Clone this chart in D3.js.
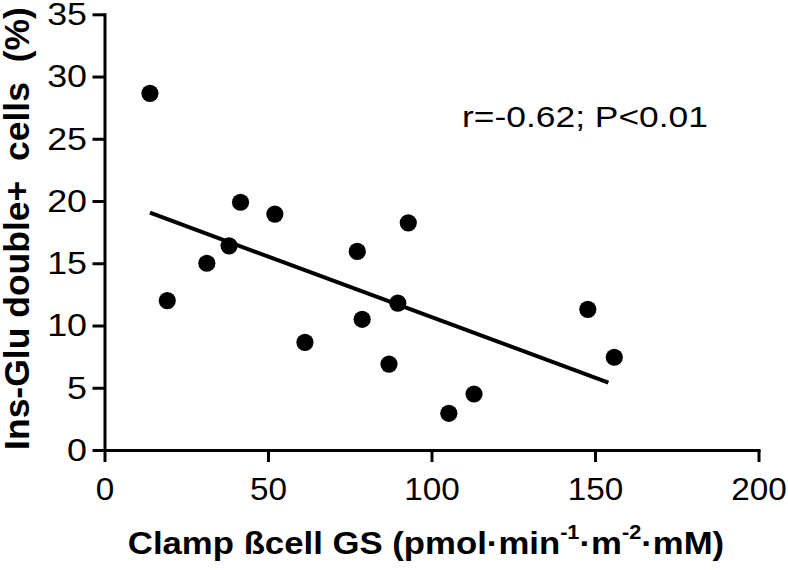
<!DOCTYPE html>
<html><head><meta charset="utf-8">
<script src="https://cdn.jsdelivr.net/npm/d3@7"></script>
<style>
body{margin:0;background:#fff}
svg text{font-family:"Liberation Sans",Arial,Helvetica,sans-serif;fill:#000}
</style>
</head><body>
<svg id="chart" width="788" height="570"></svg>
<script>
// ---- data ----
const xValues = [13.9, 19.2, 31.3, 38.1, 41.6, 52.1, 61.3, 77.3, 78.8, 87.0, 89.7, 92.9, 105.3, 113.0, 147.8, 155.9];
const yValues = [28.65, 12.0, 15.0, 16.4, 19.9, 18.95, 8.65, 15.95, 10.5, 6.9, 11.8, 18.25, 2.95, 4.5, 11.3, 7.45];
const fitX = [13.9, 154.1];
const fitY = [19.06, 5.41];
const xTicks = [0, 50, 100, 150, 200];
const yTicks = [0, 5, 10, 15, 20, 25, 30, 35];
const annotationText = "r=-0.62; P<0.01";
const yLabelText = "Ins-Glu double+  cells  (%)";
const xLabelParts = [
  {t: "Clamp ßcell GS (pmol·min", sup: false},
  {t: "-1", sup: true},
  {t: "·m", sup: false},
  {t: "-2", sup: true},
  {t: "·mM)", sup: false}
];

// ---- layout ----
const svg = d3.select("#chart");
const mLeft = 104.5, mRight = 758.5, mTop = 14.3, mBottom = 450;
const xStretch = 1.04, yStretch = 1.12;

const x = d3.scaleLinear().domain([0, 200]).range([mLeft, mRight]);
const y = d3.scaleLinear().domain([0, 35]).range([mBottom, mTop]);

// axes
const gx = svg.append("g").attr("transform", `translate(0,${mBottom})`)
  .call(d3.axisBottom(x).tickValues(xTicks).tickSize(12).tickSizeOuter(0).tickPadding(15));
const gy = svg.append("g").attr("transform", `translate(${mLeft},0)`)
  .call(d3.axisLeft(y).tickValues(yTicks).tickSize(12).tickSizeOuter(0).tickPadding(3.6));

[[gx, xStretch], [gy, yStretch]].forEach(([g, s]) => {
  g.select(".domain").attr("stroke", "#000").attr("stroke-width", 3).attr("stroke-linecap", "square");
  g.selectAll(".tick line").attr("stroke", "#000").attr("stroke-width", 3);
  g.selectAll(".tick text").attr("font-size", 32)
    .attr("font-family", "'Liberation Sans',Arial,sans-serif").attr("fill", "#000")
    .attr("transform", `scale(${s},1)`);
});

// regression line
svg.append("line")
  .attr("x1", x(fitX[0])).attr("y1", y(fitY[0]))
  .attr("x2", x(fitX[1])).attr("y2", y(fitY[1]))
  .attr("stroke", "#000").attr("stroke-width", 4);

// points
svg.append("g").selectAll("circle")
  .data(xValues.map((v, i) => [v, yValues[i]]))
  .join("circle")
  .attr("cx", d => x(d[0])).attr("cy", d => y(d[1]))
  .attr("r", 8.6).attr("fill", "#000");

// annotation
svg.append("text").attr("x", 462).attr("y", 126.5)
  .attr("font-size", 30)
  .attr("textLength", 246).attr("lengthAdjust", "spacingAndGlyphs")
  .text(annotationText);

// y label
svg.append("text")
  .attr("transform", `translate(28.5,${(3 + 454) / 2}) rotate(-90)`)
  .attr("text-anchor", "middle")
  .attr("font-size", 35.5).attr("font-weight", "bold")
  .style("white-space", "pre")
  .text(yLabelText);

// x label
const xl = svg.append("g").attr("transform", `translate(426,554) scale(1.086,1)`)
  .append("text")
  .attr("x", 0).attr("y", 0)
  .attr("text-anchor", "middle")
  .attr("font-size", 32).attr("font-weight", "bold");
let raised = false;
xLabelParts.forEach(p => {
  const ts = xl.append("tspan").text(p.t);
  if (p.sup && !raised) { ts.attr("dy", -15).attr("font-size", 20); raised = true; }
  else if (!p.sup && raised) { ts.attr("dy", 15); raised = false; }
});
</script>
</body></html>
